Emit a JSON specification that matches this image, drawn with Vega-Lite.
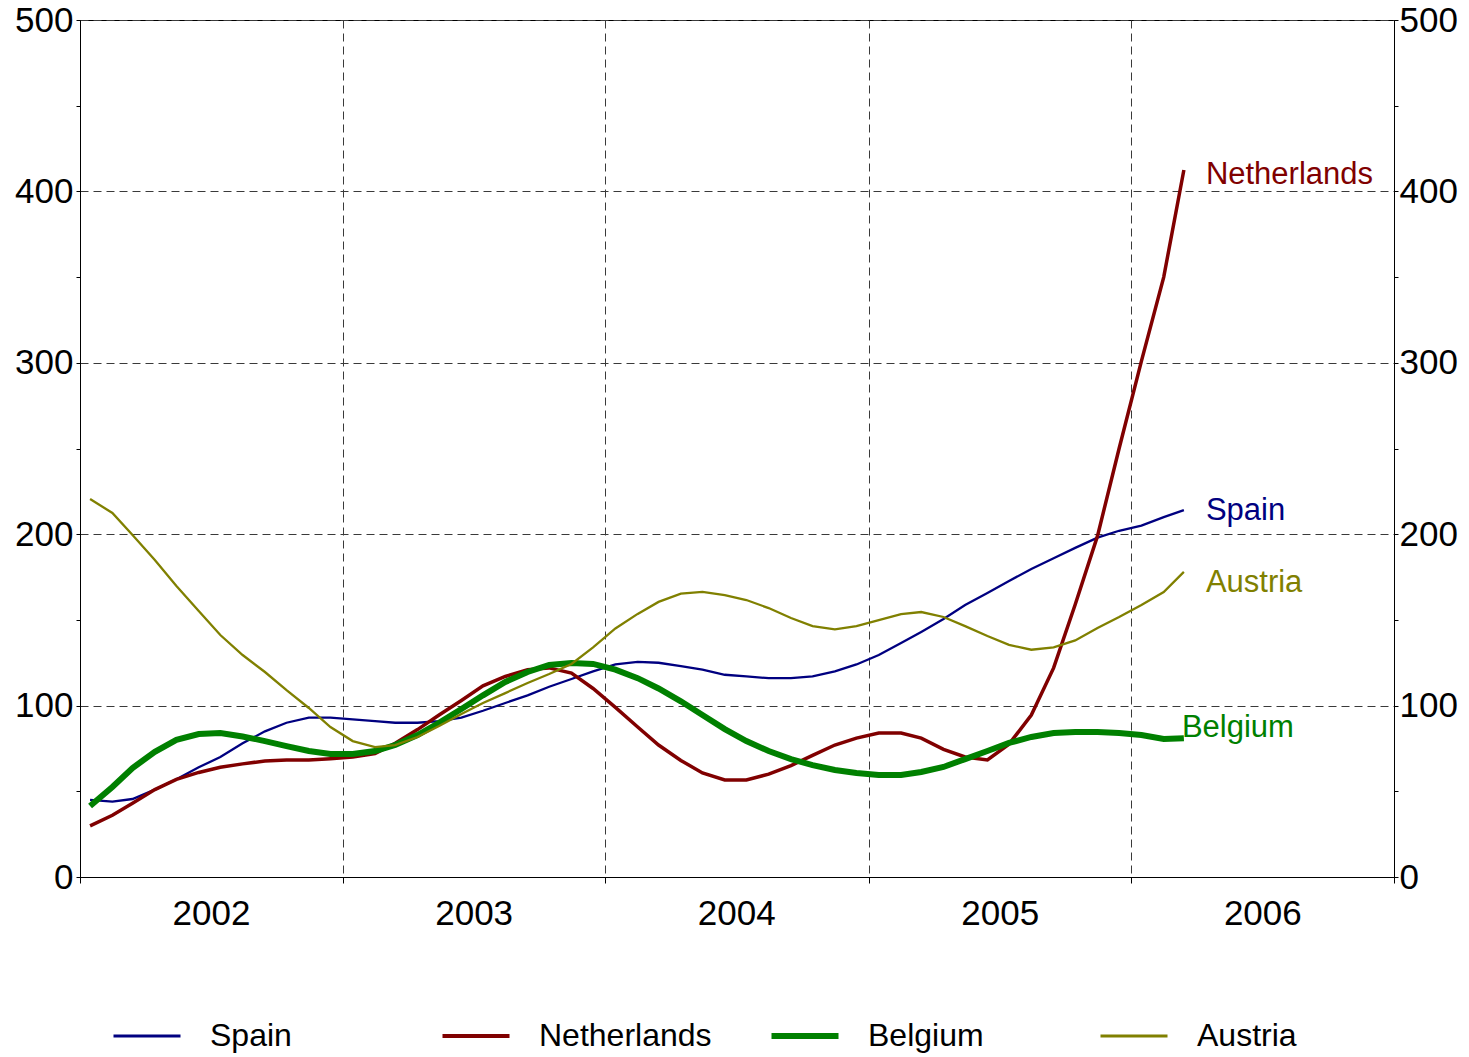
{
 "$schema": "https://vega.github.io/schema/vega-lite/v6.json",
 "width": 1314,
 "height": 857,
 "autosize": {"type": "none"},
 "padding": {"left": 80, "top": 20, "right": 75, "bottom": 180},
 "background": "white",
 "config": {
  "font": "Liberation Sans",
  "view": {"stroke": "black", "strokeWidth": 1},
  "axis": {"domainColor": "black", "domainWidth": 1, "tickColor": "black", "tickWidth": 1, "labelColor": "black", "labelFont": "Liberation Sans", "labelFontSize": 35, "gridColor": "#3a3a3a", "gridDash": [8, 5], "gridWidth": 1, "title": null}
 },
 "datasets": {
  "series": [
   {"date":"2002-01-15","country":"Spain","value":45},{"date":"2002-02-15","country":"Spain","value":44},{"date":"2002-03-15","country":"Spain","value":45.5},{"date":"2002-04-15","country":"Spain","value":51},{"date":"2002-05-15","country":"Spain","value":57},{"date":"2002-06-15","country":"Spain","value":64},{"date":"2002-07-15","country":"Spain","value":70},{"date":"2002-08-15","country":"Spain","value":78},{"date":"2002-09-15","country":"Spain","value":85},{"date":"2002-10-15","country":"Spain","value":90},{"date":"2002-11-15","country":"Spain","value":93},{"date":"2002-12-15","country":"Spain","value":93},
   {"date":"2003-01-15","country":"Spain","value":92},{"date":"2003-02-15","country":"Spain","value":91},{"date":"2003-03-15","country":"Spain","value":90},{"date":"2003-04-15","country":"Spain","value":90},{"date":"2003-05-15","country":"Spain","value":91},{"date":"2003-06-15","country":"Spain","value":93},{"date":"2003-07-15","country":"Spain","value":97},{"date":"2003-08-15","country":"Spain","value":101.5},{"date":"2003-09-15","country":"Spain","value":106},{"date":"2003-10-15","country":"Spain","value":111},{"date":"2003-11-15","country":"Spain","value":115.5},{"date":"2003-12-15","country":"Spain","value":120},
   {"date":"2004-01-15","country":"Spain","value":124},{"date":"2004-02-15","country":"Spain","value":125.5},{"date":"2004-03-15","country":"Spain","value":125},{"date":"2004-04-15","country":"Spain","value":123},{"date":"2004-05-15","country":"Spain","value":121},{"date":"2004-06-15","country":"Spain","value":118},{"date":"2004-07-15","country":"Spain","value":117},{"date":"2004-08-15","country":"Spain","value":116},{"date":"2004-09-15","country":"Spain","value":116},{"date":"2004-10-15","country":"Spain","value":117},{"date":"2004-11-15","country":"Spain","value":120},{"date":"2004-12-15","country":"Spain","value":124},
   {"date":"2005-01-15","country":"Spain","value":129.5},{"date":"2005-02-15","country":"Spain","value":136.5},{"date":"2005-03-15","country":"Spain","value":143},{"date":"2005-04-15","country":"Spain","value":150.5},{"date":"2005-05-15","country":"Spain","value":158.7},{"date":"2005-06-15","country":"Spain","value":165.7},{"date":"2005-07-15","country":"Spain","value":172.7},{"date":"2005-08-15","country":"Spain","value":179.7},{"date":"2005-09-15","country":"Spain","value":186},{"date":"2005-10-15","country":"Spain","value":192},{"date":"2005-11-15","country":"Spain","value":198},{"date":"2005-12-15","country":"Spain","value":202},
   {"date":"2006-01-15","country":"Spain","value":205},{"date":"2006-02-15","country":"Spain","value":210},{"date":"2006-03-15","country":"Spain","value":214},

   {"date":"2002-01-15","country":"Netherlands","value":29.8},{"date":"2002-02-15","country":"Netherlands","value":36},{"date":"2002-03-15","country":"Netherlands","value":43},{"date":"2002-04-15","country":"Netherlands","value":51},{"date":"2002-05-15","country":"Netherlands","value":57},{"date":"2002-06-15","country":"Netherlands","value":61},{"date":"2002-07-15","country":"Netherlands","value":64},{"date":"2002-08-15","country":"Netherlands","value":66},{"date":"2002-09-15","country":"Netherlands","value":67.7},{"date":"2002-10-15","country":"Netherlands","value":68.3},{"date":"2002-11-15","country":"Netherlands","value":68.3},{"date":"2002-12-15","country":"Netherlands","value":69},
   {"date":"2003-01-15","country":"Netherlands","value":70},{"date":"2003-02-15","country":"Netherlands","value":72},{"date":"2003-03-15","country":"Netherlands","value":78},{"date":"2003-04-15","country":"Netherlands","value":86},{"date":"2003-05-15","country":"Netherlands","value":94.5},{"date":"2003-06-15","country":"Netherlands","value":103},{"date":"2003-07-15","country":"Netherlands","value":111.5},{"date":"2003-08-15","country":"Netherlands","value":117},{"date":"2003-09-15","country":"Netherlands","value":121},{"date":"2003-10-15","country":"Netherlands","value":122},{"date":"2003-11-15","country":"Netherlands","value":119},{"date":"2003-12-15","country":"Netherlands","value":110},
   {"date":"2004-01-15","country":"Netherlands","value":99},{"date":"2004-02-15","country":"Netherlands","value":87.5},{"date":"2004-03-15","country":"Netherlands","value":77},{"date":"2004-04-15","country":"Netherlands","value":68},{"date":"2004-05-15","country":"Netherlands","value":60.7},{"date":"2004-06-15","country":"Netherlands","value":56.6},{"date":"2004-07-15","country":"Netherlands","value":56.6},{"date":"2004-08-15","country":"Netherlands","value":60},{"date":"2004-09-15","country":"Netherlands","value":65},{"date":"2004-10-15","country":"Netherlands","value":71},{"date":"2004-11-15","country":"Netherlands","value":77},{"date":"2004-12-15","country":"Netherlands","value":81},
   {"date":"2005-01-15","country":"Netherlands","value":84},{"date":"2005-02-15","country":"Netherlands","value":84},{"date":"2005-03-15","country":"Netherlands","value":81},{"date":"2005-04-15","country":"Netherlands","value":74.5},{"date":"2005-05-15","country":"Netherlands","value":70},{"date":"2005-06-15","country":"Netherlands","value":68.3},{"date":"2005-07-15","country":"Netherlands","value":77.5},{"date":"2005-08-15","country":"Netherlands","value":94.5},{"date":"2005-09-15","country":"Netherlands","value":122},{"date":"2005-10-15","country":"Netherlands","value":159},{"date":"2005-11-15","country":"Netherlands","value":199},{"date":"2005-12-15","country":"Netherlands","value":250},
   {"date":"2006-01-15","country":"Netherlands","value":301},{"date":"2006-02-15","country":"Netherlands","value":350},{"date":"2006-03-15","country":"Netherlands","value":412.5},

   {"date":"2002-01-15","country":"Belgium","value":41.4},{"date":"2002-02-15","country":"Belgium","value":52.5},{"date":"2002-03-15","country":"Belgium","value":63.6},{"date":"2002-04-15","country":"Belgium","value":73},{"date":"2002-05-15","country":"Belgium","value":80},{"date":"2002-06-15","country":"Belgium","value":83.4},{"date":"2002-07-15","country":"Belgium","value":84},{"date":"2002-08-15","country":"Belgium","value":82},{"date":"2002-09-15","country":"Belgium","value":79.3},{"date":"2002-10-15","country":"Belgium","value":76.4},{"date":"2002-11-15","country":"Belgium","value":73.5},{"date":"2002-12-15","country":"Belgium","value":71.8},
   {"date":"2003-01-15","country":"Belgium","value":71.8},{"date":"2003-02-15","country":"Belgium","value":73.5},{"date":"2003-03-15","country":"Belgium","value":77},{"date":"2003-04-15","country":"Belgium","value":82.8},{"date":"2003-05-15","country":"Belgium","value":90},{"date":"2003-06-15","country":"Belgium","value":98},{"date":"2003-07-15","country":"Belgium","value":106},{"date":"2003-08-15","country":"Belgium","value":113.8},{"date":"2003-09-15","country":"Belgium","value":119.6},{"date":"2003-10-15","country":"Belgium","value":123.7},{"date":"2003-11-15","country":"Belgium","value":124.9},{"date":"2003-12-15","country":"Belgium","value":124.3},
   {"date":"2004-01-15","country":"Belgium","value":121},{"date":"2004-02-15","country":"Belgium","value":116},{"date":"2004-03-15","country":"Belgium","value":110},{"date":"2004-04-15","country":"Belgium","value":102.5},{"date":"2004-05-15","country":"Belgium","value":94.5},{"date":"2004-06-15","country":"Belgium","value":86.3},{"date":"2004-07-15","country":"Belgium","value":79.3},{"date":"2004-08-15","country":"Belgium","value":73.5},{"date":"2004-09-15","country":"Belgium","value":68.8},{"date":"2004-10-15","country":"Belgium","value":65.3},{"date":"2004-11-15","country":"Belgium","value":62.4},{"date":"2004-12-15","country":"Belgium","value":60.7},
   {"date":"2005-01-15","country":"Belgium","value":59.5},{"date":"2005-02-15","country":"Belgium","value":59.5},{"date":"2005-03-15","country":"Belgium","value":61.3},{"date":"2005-04-15","country":"Belgium","value":64.2},{"date":"2005-05-15","country":"Belgium","value":68.8},{"date":"2005-06-15","country":"Belgium","value":73.5},{"date":"2005-07-15","country":"Belgium","value":78.2},{"date":"2005-08-15","country":"Belgium","value":81.7},{"date":"2005-09-15","country":"Belgium","value":84},{"date":"2005-10-15","country":"Belgium","value":84.6},{"date":"2005-11-15","country":"Belgium","value":84.6},{"date":"2005-12-15","country":"Belgium","value":84},
   {"date":"2006-01-15","country":"Belgium","value":82.8},{"date":"2006-02-15","country":"Belgium","value":80.5},{"date":"2006-03-15","country":"Belgium","value":81},

   {"date":"2002-01-15","country":"Austria","value":220.5},{"date":"2002-02-15","country":"Austria","value":212.4},{"date":"2002-03-15","country":"Austria","value":199.5},{"date":"2002-04-15","country":"Austria","value":185},{"date":"2002-05-15","country":"Austria","value":169.8},{"date":"2002-06-15","country":"Austria","value":155.2},{"date":"2002-07-15","country":"Austria","value":141.2},{"date":"2002-08-15","country":"Austria","value":129.5},{"date":"2002-09-15","country":"Austria","value":119.6},{"date":"2002-10-15","country":"Austria","value":109},{"date":"2002-11-15","country":"Austria","value":98.6},{"date":"2002-12-15","country":"Austria","value":87.5},
   {"date":"2003-01-15","country":"Austria","value":79.3},{"date":"2003-02-15","country":"Austria","value":75.8},{"date":"2003-03-15","country":"Austria","value":77},{"date":"2003-04-15","country":"Austria","value":81.7},{"date":"2003-05-15","country":"Austria","value":88.1},{"date":"2003-06-15","country":"Austria","value":95.1},{"date":"2003-07-15","country":"Austria","value":101.5},{"date":"2003-08-15","country":"Austria","value":107.3},{"date":"2003-09-15","country":"Austria","value":113.2},{"date":"2003-10-15","country":"Austria","value":118.4},{"date":"2003-11-15","country":"Austria","value":124.3},{"date":"2003-12-15","country":"Austria","value":134},
   {"date":"2004-01-15","country":"Austria","value":145},{"date":"2004-02-15","country":"Austria","value":153.5},{"date":"2004-03-15","country":"Austria","value":160.5},{"date":"2004-04-15","country":"Austria","value":165.3},{"date":"2004-05-15","country":"Austria","value":166.3},{"date":"2004-06-15","country":"Austria","value":164.5},{"date":"2004-07-15","country":"Austria","value":161.6},{"date":"2004-08-15","country":"Austria","value":156.9},{"date":"2004-09-15","country":"Austria","value":151.1},{"date":"2004-10-15","country":"Austria","value":146.4},{"date":"2004-11-15","country":"Austria","value":144.5},{"date":"2004-12-15","country":"Austria","value":146.4},
   {"date":"2005-01-15","country":"Austria","value":149.9},{"date":"2005-02-15","country":"Austria","value":153.4},{"date":"2005-03-15","country":"Austria","value":154.6},{"date":"2005-04-15","country":"Austria","value":151.7},{"date":"2005-05-15","country":"Austria","value":146.4},{"date":"2005-06-15","country":"Austria","value":140.6},{"date":"2005-07-15","country":"Austria","value":135.4},{"date":"2005-08-15","country":"Austria","value":132.6},{"date":"2005-09-15","country":"Austria","value":134},{"date":"2005-10-15","country":"Austria","value":138},{"date":"2005-11-15","country":"Austria","value":145.3},{"date":"2005-12-15","country":"Austria","value":151.7},
   {"date":"2006-01-15","country":"Austria","value":158.7},{"date":"2006-02-15","country":"Austria","value":166.3},{"date":"2006-03-15","country":"Austria","value":178}
  ]
 },
 "data": {"name": "series"},
 "encoding": {
  "x": {
   "field": "date", "type": "temporal",
   "scale": {"domain": [{"year": 2002, "month": 1, "date": 1}, {"year": 2007, "month": 1, "date": 1}], "nice": false},
   "axis": {
    "orient": "bottom",
    "values": [{"year": 2002, "month": 1, "date": 1}, {"year": 2003, "month": 1, "date": 1}, {"year": 2004, "month": 1, "date": 1}, {"year": 2005, "month": 1, "date": 1}, {"year": 2006, "month": 1, "date": 1}, {"year": 2007, "month": 1, "date": 1}],
    "format": "%Y",
    "labelExpr": "year(datum.value) < 2007 ? datum.label : ''",
    "labelOffset": 131,
    "labelFlush": false,
    "labelOverlap": false,
    "grid": true,
    "tickSize": 6,
    "labelPadding": 13
   }
  },
  "y": {
   "field": "value", "type": "quantitative",
   "scale": {"domain": [0, 500], "nice": false},
   "axis": {
    "orient": "left",
    "values": [0, 50, 100, 150, 200, 250, 300, 350, 400, 450, 500],
    "labelExpr": "datum.value % 100 == 0 ? datum.label : ''",
    "grid": true,
    "gridOpacity": {"condition": {"test": "datum.value % 100 == 0", "value": 1}, "value": 0},
    "tickSize": 4,
    "labelPadding": 3,
    "labelOverlap": false
   }
  },
  "color": {
   "field": "country", "type": "nominal",
   "scale": {"domain": ["Spain", "Netherlands", "Belgium", "Austria"], "range": ["#000080", "#800000", "#008000", "#808000"]},
   "legend": {
    "orient": "none", "legendX": 51, "legendY": 1000,
    "direction": "horizontal", "columns": 4, "gridAlign": "all", "columnPadding": 47,
    "symbolType": "stroke", "symbolSize": 4489,
    "labelFontSize": 32, "labelFont": "Liberation Sans", "labelColor": "black", "labelOffset": 47, "labelLimit": 400,
    "padding": 0, "title": null,
    "encode": {"symbols": {"update": {"strokeWidth": {"signal": "datum.value === 'Belgium' ? 6 : (datum.value === 'Netherlands' ? 4 : 3)"}}}}
   }
  }
 },
 "layer": [
  {
   "mark": {"type": "line", "interpolate": "linear"},
   "encoding": {
    "strokeWidth": {"condition": [{"test": "datum.country === 'Belgium'", "value": 6}, {"test": "datum.country === 'Netherlands'", "value": 3.5}], "value": 2.3}
   }
  },
  {
   "transform": [{"filter": "datum.country === 'Netherlands'"}],
   "mark": {"type": "text", "align": "left", "baseline": "middle", "dx": 22, "dy": 5, "fontSize": 31, "font": "Liberation Sans"},
   "encoding": {
    "x": {"field": "date", "type": "temporal", "aggregate": "max", "axis": null},
    "y": {"field": "value", "type": "quantitative", "aggregate": {"argmax": "date"},
     "axis": {
      "orient": "right",
      "values": [0, 50, 100, 150, 200, 250, 300, 350, 400, 450, 500],
      "labelExpr": "datum.value % 100 == 0 ? datum.label : ''",
      "grid": false,
      "tickSize": 4,
      "labelPadding": 1,
      "labelOverlap": false
     }
    },
    "text": {"field": "country"},
    "color": {"value": "#800000"}
   }
  },
  {
   "transform": [{"filter": "datum.country === 'Spain'"}],
   "mark": {"type": "text", "align": "left", "baseline": "middle", "dx": 22, "dy": 1, "fontSize": 31, "font": "Liberation Sans"},
   "encoding": {
    "x": {"field": "date", "type": "temporal", "aggregate": "max", "axis": null},
    "y": {"field": "value", "type": "quantitative", "aggregate": {"argmax": "date"}, "axis": null},
    "text": {"field": "country"},
    "color": {"value": "#000080"}
   }
  },
  {
   "transform": [{"filter": "datum.country === 'Austria'"}],
   "mark": {"type": "text", "align": "left", "baseline": "middle", "dx": 22, "dy": 11, "fontSize": 31, "font": "Liberation Sans"},
   "encoding": {
    "x": {"field": "date", "type": "temporal", "aggregate": "max", "axis": null},
    "y": {"field": "value", "type": "quantitative", "aggregate": {"argmax": "date"}, "axis": null},
    "text": {"field": "country"},
    "color": {"value": "#808000"}
   }
  },
  {
   "transform": [{"filter": "datum.country === 'Belgium'"}],
   "mark": {"type": "text", "align": "left", "baseline": "middle", "dx": -2, "dy": -10, "fontSize": 31, "font": "Liberation Sans"},
   "encoding": {
    "x": {"field": "date", "type": "temporal", "aggregate": "max", "axis": null},
    "y": {"field": "value", "type": "quantitative", "aggregate": {"argmax": "date"}, "axis": null},
    "text": {"field": "country"},
    "color": {"value": "#008000"}
   }
  }
 ],
 "resolve": {"axis": {"x": "independent", "y": "independent"}}
}
